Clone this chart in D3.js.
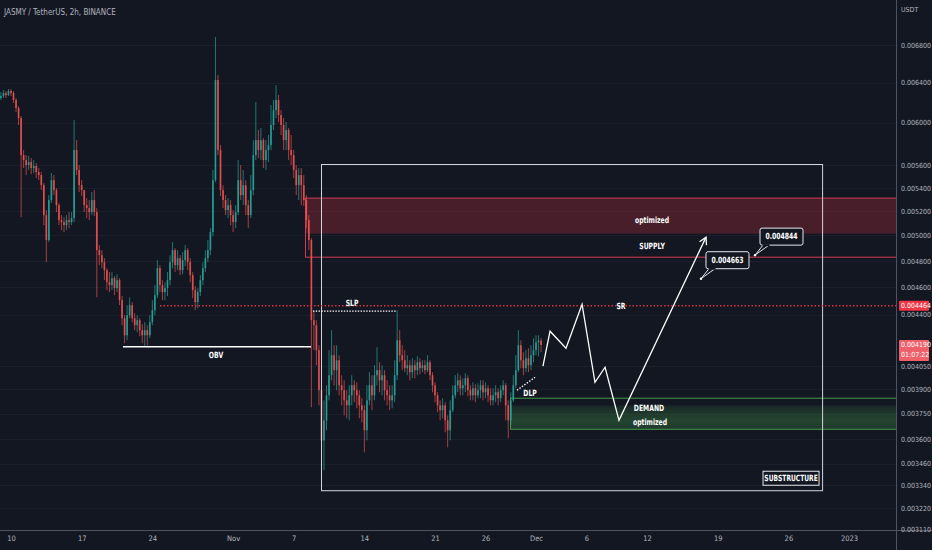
<!DOCTYPE html>
<html><head><meta charset="utf-8">
<script src="https://cdn.jsdelivr.net/npm/d3@7"></script>
<style>
html,body{margin:0;padding:0;background:#131722;}
svg{display:block;}
text{font-family:"Liberation Sans Narrow","DejaVu Sans Condensed","Roboto Condensed","Liberation Sans",sans-serif;font-stretch:condensed;}
</style></head><body><svg id="c" width="932" height="550"></svg>
<script>
// ---------------- DATA ----------------
const title = "JASMY / TetherUS, 2h, BINANCE";
const axisUnit = "USDT";
const PRICE_UNIT = 1e-6;              // candle values are in micro-USDT
const dayZero = Date.UTC(2022, 9, 10); // annotation "day" values count from 10 Oct 2022
const candleStartDay = -1;
const candleStepHours = 6;
const firstOpen = 6242;
// [close, high, low]; open = previous close
const candlesCHL = [
[6262,6303,6222],[6292,6323,6242],[6272,6313,6242],[6313,6333,6262],[6292,6333,6262],
[6222,6313,6192],[6142,6242,6102],[6044,6162,5976],[5693,6063,5150],[5647,5739,5575],
[5602,5693,5512],[5629,5684,5557],[5575,5665,5521],[5593,5647,5530],[5539,5620,5485],
[5512,5575,5467],[5423,5539,5380],[5167,5441,5084],[4963,5209,4789],[5294,5337,4947],
[5467,5530,5268],[5380,5512,5337],[5251,5397,5192],[5125,5268,5084],[5109,5167,5043],
[5084,5150,5027],[5125,5167,5043],[5109,5192,5059],[5142,5192,5084],[5739,6024,5109],
[5557,5832,5512],[5423,5602,5363],[5380,5467,5328],[5251,5380,5192],[5226,5311,5142],
[5192,5294,5125],[5294,5363,5167],[5192,5380,5159],[4883,5226,4526],[4844,4923,4766],
[4789,4883,4743],[4728,4820,4652],[4637,4743,4578],[4615,4713,4563],[4667,4713,4578],
[4593,4682,4541],[4652,4697,4563],[4504,4667,4468],[4375,4534,4326],[4256,4396,4202],
[4396,4468,4222],[4468,4526,4375],[4375,4490,4347],[4326,4410,4291],[4361,4396,4277],
[4291,4375,4249],[4256,4333,4202],[4291,4347,4181],[4256,4326,4188],[4347,4396,4236],
[4432,4504,4326],[4541,4615,4396],[4743,4805,4519],[4615,4766,4563],[4563,4652,4504],
[4593,4637,4504],[4652,4713,4534],[4789,4844,4615],[4883,4947,4743],[4766,4899,4713],
[4820,4883,4728],[4728,4844,4690],[4805,4867,4697],[4883,4923,4758],[4789,4899,4728],
[4690,4820,4637],[4578,4713,4519],[4490,4608,4432],[4563,4593,4446],[4652,4690,4534],
[4743,4789,4615],[4820,4883,4713],[4883,4963,4789],[5027,5059,4844],[5467,5557,4995],
[6426,6889,5450],[5739,6478,5693],[5380,5785,5328],[5294,5423,5226],[5209,5337,5167],
[5251,5311,5142],[5167,5294,5084],[5109,5209,5027],[5192,5251,5059],[5467,5647,5167],
[5337,5602,5294],[5423,5557,5251],[5251,5467,5167],[5167,5294,5059],[5380,5512,5142],
[5693,5832,5337],[5832,6202,5647],[5739,5928,5665],[5832,5947,5647],[5647,5851,5575],
[5739,5832,5557],[5785,5880,5629],[5976,6172,5739],[6122,6222,5928],[6222,6374,6044],
[6073,6272,6005],[5976,6122,5880],[5832,6044,5739],[5928,6005,5739],[5739,5947,5647],
[5693,5880,5602],[5557,5739,5485],[5423,5602,5337],[5512,5575,5294],[5423,5575,5251],
[5294,5512,5243],[5125,5337,5059],[4963,5167,4883],[4361,4979,3789],[4326,4425,4155],
[4155,4361,4055],[3895,4188,3801],[3592,3926,3352],[3710,3832,3423],[3863,3926,3651],
[3990,4155,3832],[4121,4291,3958],[4023,4188,3926],[4088,4188,3895],[3926,4121,3863],
[3895,3990,3801],[3832,3958,3740],[3801,3895,3722],[3863,3926,3710],[3926,3990,3801],
[3895,3958,3820],[3863,3945,3783],[3801,3895,3722],[3771,3845,3698],[3651,3801,3523],
[3832,3926,3592],[3926,4010,3801],[3863,3990,3771],[3990,4055,3832],[4023,4175,3926],
[3958,4075,3882],[3990,4055,3863],[3895,4023,3832],[3863,3958,3801],[3832,3926,3771],
[3863,3926,3783],[3990,4088,3820],[4222,4432,3958],[4121,4291,4075],[4088,4188,4023],
[4036,4155,4010],[4055,4121,3990],[4010,4088,3958],[4055,4101,3971],[4023,4088,3971],
[4075,4114,3990],[4036,4101,3997],[4055,4088,4010],[4023,4088,3997],[4075,4121,4010],
[3990,4088,3958],[3926,4010,3882],[3863,3945,3820],[3801,3882,3759],[3771,3832,3710],
[3801,3845,3722],[3710,3820,3639],[3651,3740,3552],[3771,3832,3592],[3863,3926,3759],
[3926,3990,3845],[3958,4003,3882],[3907,3990,3863],[3926,3971,3863],[3971,4003,3882],
[3895,3990,3857],[3863,3926,3832],[3907,3945,3832],[3863,3932,3820],[3895,3939,3845],
[3926,3958,3845],[3882,3958,3832],[3907,3945,3845],[3863,3926,3820],[3832,3907,3801],
[3863,3907,3801],[3882,3926,3820],[3845,3907,3801],[3895,3926,3820],[3926,3958,3863],
[3801,3939,3710],[3710,3832,3604],[3832,3882,3680],[3926,3990,3820],[4023,4121,3907],
[4188,4291,4010],[4088,4222,4036],[4036,4141,3990],[4101,4155,4010],[4055,4168,4010],
[4121,4188,4023],[4155,4236,4075],[4208,4256,4121],[4220,4256,4114],[4190,4236,4141]
];
const lastPrice = 0.004190;
const countdown = "01:07:22";
const markPrice = 0.004464;
const yTickValues = [0.0068,0.0064,0.006,0.0056,0.0054,0.0052,0.005,0.0048,0.0046,0.0044,0.00405,0.0039,0.00375,0.0036,0.00346,0.00334,0.00322,0.00311];
const xTickDates = ["2022-10-10","2022-10-17","2022-10-24","2022-11-01","2022-11-07","2022-11-14","2022-11-21","2022-11-26","2022-12-01","2022-12-06","2022-12-12","2022-12-19","2022-12-26","2023-01-01"];
const xTickLabels = ["10","17","24","Nov","7","14","21","26","Dec","6","12","19","26","2023"];
// annotations (day offset from 10 Oct, price)
const supplyZone = {day:29.12, top:0.005311, mid:0.005015, bottom:0.004828};
const demandZone = {day:49.43, top:0.003845, mid:0.003801, bottom:0.003657};
const structureBox = {day0:30.70, day1:80.33, top:0.005611, bottom:0.003314};
const markLineStartDay = 14.76;
const slpLine = {day0:29.91, day1:38.23, price:0.004425};
const obvLine = {day0:11.09, day1:29.71, price:0.004178};
const dlpLine = {day0:50.12, p0:0.003895, day1:51.9, p1:0.003977};
const projDays   = [52.69, 53.39, 54.97, 56.56, 57.84, 58.84, 60.22, 68.84];
const projPrices = [0.004049,0.004284,0.004168,0.004475,0.003945,0.004042,0.003710,0.004987];
const callouts = [{day:68.34, price:0.004663, text:"0.004663"},{day:73.69, price:0.004844, text:"0.004844"}];
const labelTexts  = ["SLP","OBV","DLP","SR","optimized","SUPPLY","DEMAND","optimized"];
const labelDays   = [33.78, 20.30, 51.41, 60.42, 63.49, 63.49, 63.19, 63.29];
const labelPrices = [0.004482,0.004121,0.003876,0.004464,0.005125,0.004915,0.003783,0.003698];
const substructure = {text:"SUBSTRUCTURE", day:77.26, price:0.003379};

// ---------------- CHART ----------------
const dayToDate = d => new Date(dayZero + d * 864e5);
const svg = d3.select("#c");
const W = 932, H = 550, plotR = 896, plotB = 530;
const x = d3.scaleUtc().domain([dayToDate(0), dayToDate(83)]).range([11, 849]);
const y = d3.scaleLog().domain([0.0068, 0.0036]).range([45, 439]);
const X = d => x(dayToDate(d));

// condensed bold label helper
function ctext(parent, cx, cy, txt, size, sx, weight, fill) {
  return parent.append("text").attr("transform", `translate(${cx},${cy}) scale(${sx},1)`)
    .attr("text-anchor","middle").attr("dominant-baseline","middle")
    .attr("fill", fill || "#ffffff").attr("font-size", size).attr("font-weight", weight || "bold").text(txt);
}

svg.append("rect").attr("width", W).attr("height", H).attr("fill", "#131722");
const defs = svg.append("defs");
defs.append("clipPath").attr("id","plot").append("rect").attr("x",0).attr("y",0).attr("width",plotR).attr("height",plotB);
const g = defs.append("linearGradient").attr("id","dem").attr("x1",0).attr("y1",0).attr("x2",0).attr("y2",1);
g.append("stop").attr("offset","0%").attr("stop-color","#4caf50").attr("stop-opacity",0.10);
g.append("stop").attr("offset","60%").attr("stop-color","#4caf50").attr("stop-opacity",0.30);
g.append("stop").attr("offset","100%").attr("stop-color","#4caf50").attr("stop-opacity",0.22);

const plot = svg.append("g").attr("clip-path","url(#plot)");

// grid
plot.append("g").selectAll("line").data(yTickValues).join("line")
  .attr("x1",0).attr("x2",plotR).attr("y1",d=>Math.round(y(d))+0.5).attr("y2",d=>Math.round(y(d))+0.5)
  .attr("stroke","#1b1f2b").attr("stroke-width",1);

// supply zone
const sx = X(supplyZone.day);
plot.append("rect").attr("x",sx).attr("y",y(supplyZone.top)).attr("width",plotR-sx+5)
  .attr("height",y(supplyZone.mid)-y(supplyZone.top)).attr("fill","#f23645").attr("fill-opacity",0.24);
plot.append("rect").attr("x",sx+0.5).attr("y",y(supplyZone.top)).attr("width",plotR-sx+5)
  .attr("height",y(supplyZone.bottom)-y(supplyZone.top)).attr("fill","none").attr("stroke","#d43a52").attr("stroke-width",1);
// demand zone
const dx = X(demandZone.day);
plot.append("rect").attr("x",dx).attr("y",y(demandZone.mid)).attr("width",plotR-dx+5)
  .attr("height",y(demandZone.bottom)-y(demandZone.mid)).attr("fill","url(#dem)");
plot.append("rect").attr("x",dx+0.5).attr("y",y(demandZone.top)).attr("width",plotR-dx+5)
  .attr("height",y(demandZone.bottom)-y(demandZone.top)).attr("fill","none").attr("stroke","#4caf50").attr("stroke-opacity",0.85).attr("stroke-width",1);

// candles
let prev = firstOpen;
const bars = candlesCHL.map((d,i) => {
  const o = prev; prev = d[0];
  return {t: dayToDate(candleStartDay + i*candleStepHours/24), o:o*PRICE_UNIT, c:d[0]*PRICE_UNIT,
          h:Math.max(d[1],o,d[0])*PRICE_UNIT, l:Math.min(d[2],o,d[0])*PRICE_UNIT};
});
const up = "#26a69a", dn = "#ef5350";
const cg = plot.append("g");
cg.selectAll("line").data(bars).join("line")
  .attr("x1",d=>x(d.t)).attr("x2",d=>x(d.t)).attr("y1",d=>y(d.h)).attr("y2",d=>y(d.l))
  .attr("stroke",d=>d.c>=d.o?up:dn).attr("stroke-width",0.8).attr("stroke-opacity",0.85);
cg.selectAll("rect").data(bars).join("rect")
  .attr("x",d=>x(d.t)-0.85).attr("width",1.7)
  .attr("y",d=>y(Math.max(d.o,d.c))).attr("height",d=>Math.max(0.8,Math.abs(y(d.o)-y(d.c))))
  .attr("fill",d=>d.c>=d.o?up:dn).attr("fill-opacity",0.85);

// structure box
plot.append("rect").attr("x",Math.round(X(structureBox.day0))+0.5).attr("y",Math.round(y(structureBox.top))+0.5)
  .attr("width",X(structureBox.day1)-X(structureBox.day0)).attr("height",y(structureBox.bottom)-y(structureBox.top))
  .attr("fill","none").attr("stroke","#d1d4dc").attr("stroke-width",1);

// mark price dotted line
plot.append("line").attr("x1",X(markLineStartDay)).attr("x2",plotR).attr("y1",y(markPrice)).attr("y2",y(markPrice))
  .attr("stroke","#f23645").attr("stroke-width",1.3).attr("stroke-opacity",0.9).attr("stroke-dasharray","1.5,2");
// SLP
plot.append("line").attr("x1",X(slpLine.day0)).attr("x2",X(slpLine.day1)).attr("y1",y(slpLine.price)).attr("y2",y(slpLine.price))
  .attr("stroke","#ffffff").attr("stroke-width",1.4).attr("stroke-dasharray","1.4,1.4");
// OBV
plot.append("line").attr("x1",X(obvLine.day0)).attr("x2",X(obvLine.day1)).attr("y1",y(obvLine.price)).attr("y2",y(obvLine.price))
  .attr("stroke","#ffffff").attr("stroke-width",1.3);
// DLP
plot.append("line").attr("x1",X(dlpLine.day0)).attr("x2",X(dlpLine.day1)).attr("y1",y(dlpLine.p0)).attr("y2",y(dlpLine.p1))
  .attr("stroke","#ffffff").attr("stroke-width",1.4).attr("stroke-dasharray","1.4,1.6");

// projection
const pts = projDays.map((d,i)=>[X(d), y(projPrices[i])]);
plot.append("path").attr("d", d3.line()(pts)).attr("fill","none").attr("stroke","#ffffff").attr("stroke-width",1.3).attr("stroke-linejoin","miter");
{
  const a = pts[pts.length-2], b = pts[pts.length-1];
  const ang = Math.atan2(b[1]-a[1], b[0]-a[0]);
  const L = 8, s = 0.5;
  const p1 = [b[0]-L*Math.cos(ang-s), b[1]-L*Math.sin(ang-s)];
  const p2 = [b[0]-L*Math.cos(ang+s), b[1]-L*Math.sin(ang+s)];
  plot.append("path").attr("d", d3.line()([p1,b,p2])).attr("fill","none").attr("stroke","#ffffff").attr("stroke-width",1.3);
}

// callouts
callouts.forEach(c => {
  const ax = X(c.day), ay = y(c.price);
  const bx = ax + 5, by = ay - 27, bw = 43, bh = 17;
  plot.append("path").attr("d", `M${bx+3},${by+bh} L${ax},${ay} L${bx+9},${by+bh}`)
    .attr("fill","#131722").attr("stroke","#e6e8ee").attr("stroke-width",1);
  plot.append("rect").attr("x",bx).attr("y",by).attr("width",bw).attr("height",bh).attr("rx",2)
    .attr("fill","#131722").attr("stroke","#e6e8ee").attr("stroke-width",1);
  plot.append("rect").attr("x",bx+2.5).attr("y",by+bh-1).attr("width",7).attr("height",2).attr("fill","#131722");
  plot.append("circle").attr("cx",ax).attr("cy",ay).attr("r",1.2).attr("fill","#ffffff");
  ctext(plot, bx+bw/2, by+bh/2+0.5, c.text, 8.5, 0.8);
});

// labels
labelTexts.forEach((t,i) => ctext(plot, X(labelDays[i]), y(labelPrices[i])+0.5, t, 8.5, 0.8));

// substructure
{
  const cx = X(substructure.day), cy = y(substructure.price);
  plot.append("rect").attr("x",cx-28).attr("y",cy-7).attr("width",56).attr("height",14)
    .attr("fill","#131722").attr("stroke","#e6e8ee").attr("stroke-width",1);
  ctext(plot, cx, cy+0.5, substructure.text, 8.5, 0.78);
}

// title
svg.append("text").attr("x",4).attr("y",12).attr("dominant-baseline","middle")
  .attr("fill","#b2b5be").attr("font-size",8).text(title);

// axes
svg.append("rect").attr("x",plotR).attr("y",0).attr("width",W-plotR).attr("height",H).attr("fill","#131722");
svg.append("rect").attr("x",0).attr("y",plotB).attr("width",W).attr("height",H-plotB).attr("fill","#131722");
svg.append("line").attr("x1",plotR+0.5).attr("x2",plotR+0.5).attr("y1",0).attr("y2",H).attr("stroke","#50535e");
svg.append("line").attr("x1",0).attr("x2",W).attr("y1",plotB+0.5).attr("y2",plotB+0.5).attr("stroke","#50535e");

const yAxis = d3.axisRight(y).tickValues(yTickValues).tickFormat(d=>d.toFixed(6)).tickSize(0).tickPadding(5);
const ya = svg.append("g").attr("transform",`translate(${plotR},0)`).call(yAxis);
ya.select(".domain").remove();
ya.selectAll("text").attr("fill","#b2b5be").attr("font-size",7).attr("font-family",null);

const xAxis = d3.axisBottom(x).tickValues(xTickDates.map(s=>new Date(s+"T00:00:00Z"))).tickFormat((d,i)=>xTickLabels[i]).tickSize(0).tickPadding(6);
const xa = svg.append("g").attr("transform",`translate(0,${plotB})`).call(xAxis);
xa.select(".domain").remove();
xa.selectAll("text").attr("fill","#b2b5be").attr("font-size",7.5).attr("font-family",null);

svg.append("text").attr("x",901).attr("y",10).attr("dominant-baseline","middle").attr("fill","#b2b5be").attr("font-size",7).text(axisUnit);

// price labels on axis
const ym = y(markPrice);
svg.append("rect").attr("x",899).attr("y",ym-5).attr("width",30).attr("height",10).attr("rx",1).attr("fill","#f23645");
svg.append("text").attr("x",901).attr("y",ym+0.5).attr("dominant-baseline","middle").attr("fill","#ffffff").attr("font-size",7).text(markPrice.toFixed(6));
const yl = y(lastPrice);
svg.append("rect").attr("x",899).attr("y",yl-5).attr("width",30).attr("height",21).attr("rx",1).attr("fill","#f0606b");
svg.append("text").attr("x",901).attr("y",yl+0.5).attr("dominant-baseline","middle").attr("fill","#ffffff").attr("font-size",7).text(lastPrice.toFixed(6));
svg.append("text").attr("x",901).attr("y",yl+10.5).attr("dominant-baseline","middle").attr("fill","#ffffff").attr("font-size",7).text(countdown);
</script></body></html>
